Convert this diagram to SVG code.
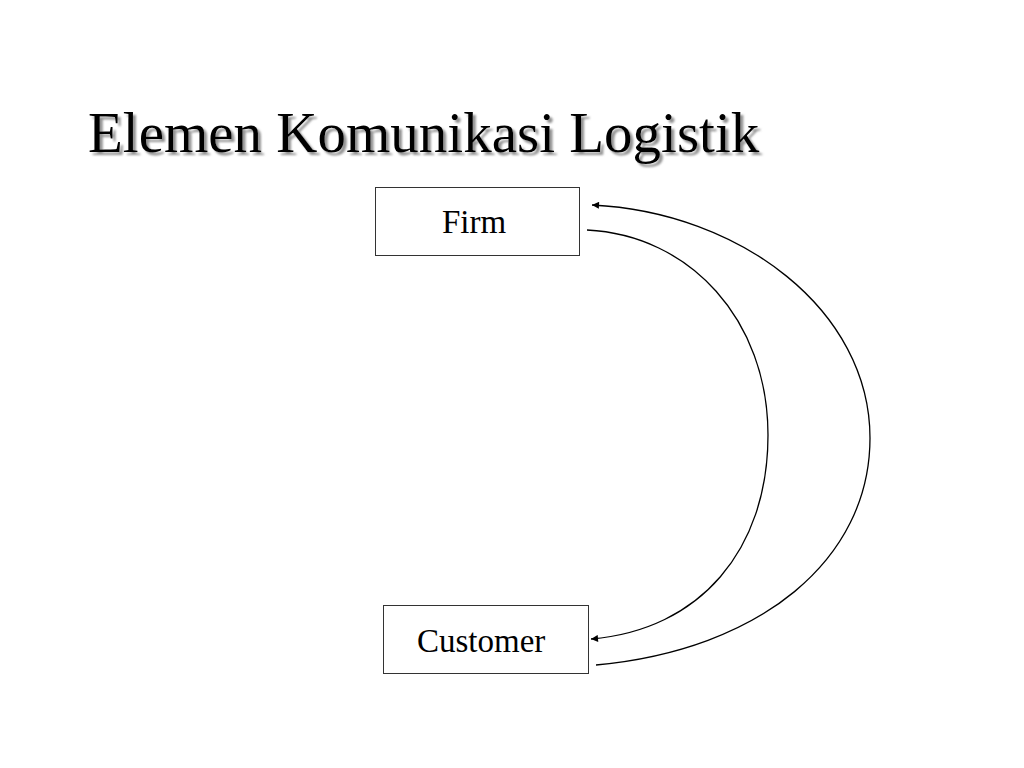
<svg xmlns="http://www.w3.org/2000/svg" width="1024" height="768" viewBox="0 0 1024 768">
<style>
.title{font-family:"Liberation Serif","Times New Roman",serif;font-size:57px;fill:#000}
.lbl{font-family:"Liberation Serif","Times New Roman",serif;font-size:33px;fill:#000}
.box{fill:#fff;stroke:#333;stroke-width:1}
.conn{fill:none;stroke:#000;stroke-width:1.3}
</style>
<defs>
<filter id="shadow" x="-5%" y="-20%" width="110%" height="150%">
<feDropShadow dx="3" dy="3" stdDeviation="1.2" flood-color="#777" flood-opacity="0.8"/>
</filter>
<marker id="arr" viewBox="0 0 10 10" refX="10" refY="5" markerWidth="9" markerHeight="7" markerUnits="userSpaceOnUse" orient="auto">
<path d="M0,0 L10,5 L0,10 Z" fill="#000"/>
</marker>
</defs>
<rect width="1024" height="768" fill="#fff"/>
<text class="title" x="88" y="152" filter="url(#shadow)">Elemen Komunikasi Logistik</text>
<g id="firm">
<rect class="box" x="375.5" y="187.5" width="204" height="68"/>
<text class="lbl" x="442" y="233">Firm</text>
</g>
<g id="customer">
<rect class="box" x="383.5" y="605.5" width="205" height="68"/>
<text class="lbl" x="417" y="652">Customer</text>
</g>
<g id="connectors">
<path class="conn" d="M596,665 C760,650 870,560 870,438 C870,310 740,212 592,205" marker-end="url(#arr)"/>
<path class="conn" d="M587,230 C690,235 768,320 768,435 C768,550 700,630 591,639" marker-end="url(#arr)"/>
</g>
</svg>
